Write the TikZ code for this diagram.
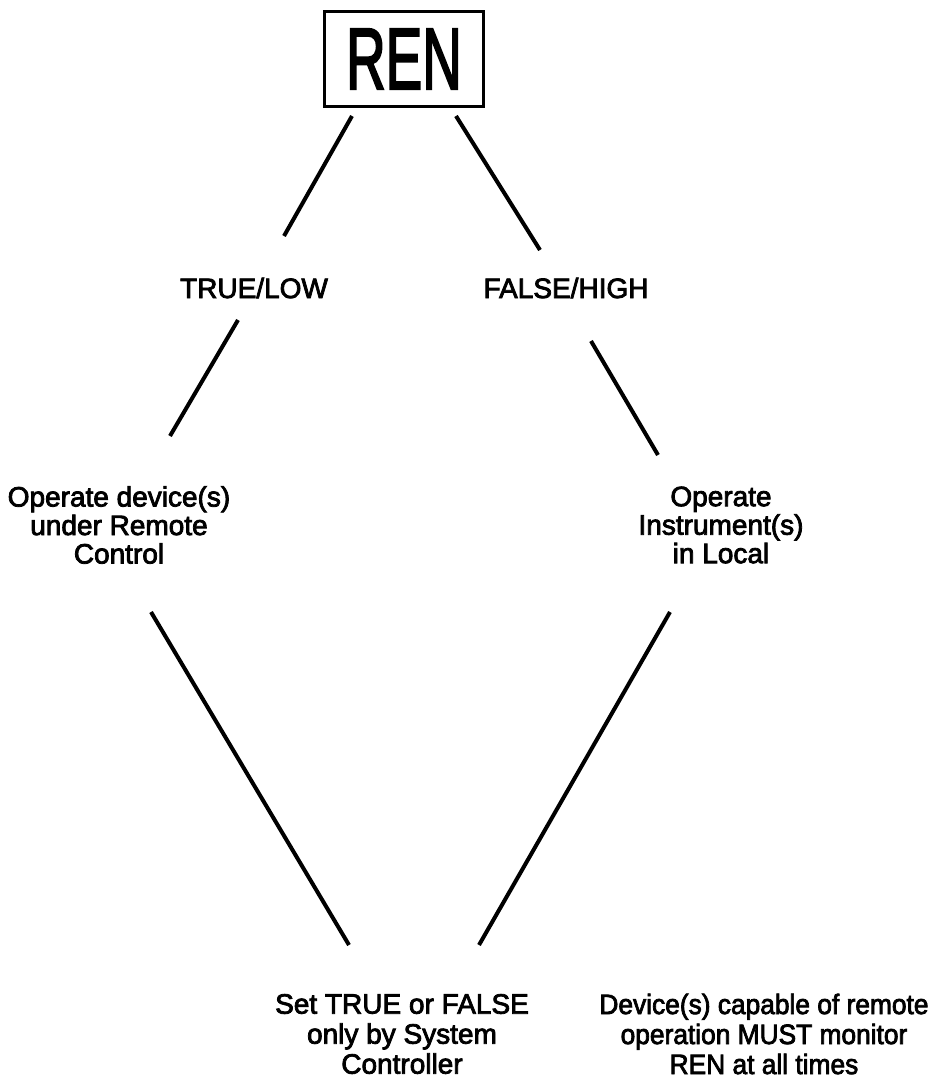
\documentclass[tikz,border=0pt]{standalone}
\usepackage{fontspec}
\setmainfont{Liberation Sans}
\newfontfamily\labelfont[FakeBold=2.8]{Liberation Sans}
\begin{document}
\begin{tikzpicture}[x=1pt,y=-1pt,
  lab/.style={font=\labelfont\fontsize{28}{28.5}\selectfont, align=center, inner sep=0pt},
  labwide/.style={font=\labelfont\fontsize{28}{30}\selectfont, align=center, inner sep=0pt},
  link/.style={line width=4pt}]
\useasboundingbox[fill=white] (0,0) rectangle (942,1080);

% signal name in a box
\node[draw, line width=3.2pt, minimum width=159pt, minimum height=95pt, inner sep=0pt] (ren) at (404,59)
  {\labelfont\fontsize{87}{87}\selectfont\scalebox{0.63}[1]{REN}};

% states
\node[lab] (true)  at (254,288) {TRUE/LOW};
\node[lab] (false) at (566,288) {FALSE/HIGH};

% consequences
\node[lab] (remote) at (119,525) {Operate device(s)\\under Remote\\Control};
\node[lab] (local)  at (721,525) {Operate\\Instrument(s)\\in Local};

% notes
\node[labwide] (setby)   at (402,1034) {Set TRUE or FALSE\\only by System\\Controller};
\node[labwide] (monitor) at (764,1034)
  {\scalebox{0.94}[1]{Device(s) capable of remote}\\\scalebox{0.94}[1]{operation MUST monitor}\\\scalebox{0.94}[1]{REN at all times}};

% free ends of the connecting strokes
\coordinate (a1) at (352,116); \coordinate (a2) at (284,236);
\coordinate (b1) at (456,116); \coordinate (b2) at (540,250);
\coordinate (c1) at (238,320); \coordinate (c2) at (170,436);
\coordinate (d1) at (591,341); \coordinate (d2) at (658,455);
\coordinate (e1) at (151,612); \coordinate (e2) at (349,945);
\coordinate (f1) at (670,612); \coordinate (f2) at (479,945);

\draw[link] (a1) -- (a2);
\draw[link] (b1) -- (b2);
\draw[link] (c1) -- (c2);
\draw[link] (d1) -- (d2);
\draw[link] (e1) -- (e2);
\draw[link] (f1) -- (f2);
\end{tikzpicture}
\end{document}
